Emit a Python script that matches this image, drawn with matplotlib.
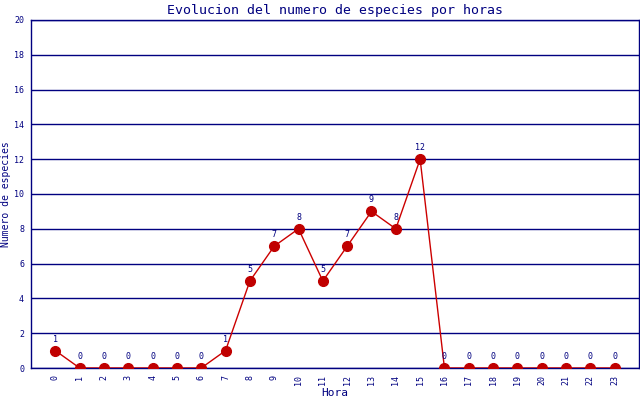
import matplotlib
matplotlib.use("Agg")
import matplotlib.pyplot as plt

# Datos: numero de especies por hora
horas = list(range(24))
especies = [1, 0, 0, 0, 0, 0, 0, 1, 5, 7, 8, 5, 7, 9, 8, 12, 0, 0, 0, 0, 0, 0, 0, 0]
yticks = list(range(0, 21, 2))

azul = "#000080"
rojo = "#cc0000"
fuente = "DejaVu Sans Mono"

fig = plt.figure(figsize=(6.4, 4.0), dpi=100)
ax = fig.add_axes([31 / 640, 32 / 400, 608 / 640, 348 / 400])

ax.plot(horas, especies, color=rojo, linewidth=1, marker="o", markersize=7,
        markerfacecolor="#c00000", markeredgecolor="#c00000", zorder=3)

for h, e in zip(horas, especies):
    ax.annotate(str(e), (h, e), xytext=(0, 5), textcoords="offset points",
                ha="center", va="bottom", fontsize=6, color=azul, family=fuente)

ax.set_xlim(-1, 24)
ax.set_ylim(0, 20)
ax.set_xticks(horas)
ax.set_xticklabels([str(h) for h in horas], rotation=90, fontsize=6,
                   color=azul, family=fuente)
ax.set_yticks(yticks)
ax.set_yticklabels([str(y) for y in yticks], fontsize=6, color=azul, family=fuente)
ax.tick_params(length=0, pad=5)

ax.grid(True, axis="y", color=azul, linewidth=1)
ax.set_axisbelow(True)
for s in ax.spines.values():
    s.set_color(azul)
    s.set_linewidth(1)

ax.set_title("Evolucion del numero de especies por horas", fontsize=9.5,
             color=azul, family=fuente, pad=4)
ax.set_xlabel("Hora", fontsize=8, color=azul, family=fuente, labelpad=2)
ax.set_ylabel("Numero de especies", fontsize=7, color=azul, family=fuente, labelpad=2)

fig.savefig("out.png", dpi=100)
